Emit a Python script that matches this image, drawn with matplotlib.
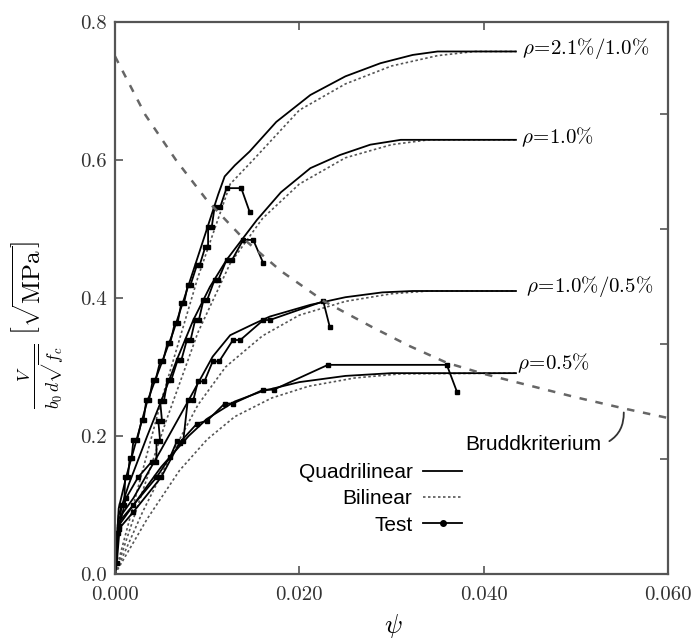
import matplotlib
matplotlib.use("Agg")
import matplotlib.pyplot as plt
from matplotlib.lines import Line2D
from matplotlib.ticker import FormatStrFormatter

plt.rcParams["font.family"] = "serif"
plt.rcParams["font.serif"] = ["cmr10"]
plt.rcParams["mathtext.fontset"] = "cm"
plt.rcParams["axes.formatter.use_mathtext"] = True

# quadrilinear model (solid)
psi_q1 = [0, 0.0004, 0.0012, 0.0035, 0.0063, 0.0090, 0.0112, 0.0119, 0.0130, 0.0146, 0.0175, 0.0212, 0.0250, 0.0288, 0.0323, 0.0350, 0.0435]
v_q1 = [0, 0.095, 0.140, 0.250, 0.350, 0.460, 0.550, 0.576, 0.592, 0.612, 0.655, 0.694, 0.721, 0.740, 0.752, 0.757, 0.757]
psi_q2 = [0, 0.0004, 0.0015, 0.0035, 0.0052, 0.0067, 0.0085, 0.0103, 0.0121, 0.0154, 0.0180, 0.0212, 0.0244, 0.0277, 0.0310, 0.0435]
v_q2 = [0, 0.085, 0.130, 0.200, 0.257, 0.310, 0.368, 0.416, 0.455, 0.513, 0.553, 0.588, 0.607, 0.622, 0.629, 0.629]
psi_q3 = [0, 0.0004, 0.0020, 0.0050, 0.0075, 0.0092, 0.0106, 0.0125, 0.0150, 0.0168, 0.0212, 0.0250, 0.0290, 0.0323, 0.0435]
v_q3 = [0, 0.080, 0.110, 0.180, 0.240, 0.281, 0.315, 0.346, 0.362, 0.373, 0.390, 0.401, 0.408, 0.410, 0.410]
psi_q4 = [0, 0.0004, 0.0020, 0.0050, 0.0080, 0.0100, 0.0130, 0.0160, 0.0200, 0.0250, 0.0300, 0.0435]
v_q4 = [0, 0.075, 0.100, 0.155, 0.200, 0.225, 0.250, 0.265, 0.278, 0.287, 0.291, 0.291]

# bilinear model (dotted)
psi_b1 = [0, 0.0020, 0.0050, 0.0090, 0.0125, 0.0150, 0.0200, 0.0250, 0.0300, 0.0350, 0.0390, 0.0435]
v_b1 = [0, 0.100, 0.250, 0.430, 0.565, 0.600, 0.672, 0.710, 0.736, 0.751, 0.757, 0.757]
psi_b2 = [0, 0.0025, 0.0055, 0.0090, 0.0125, 0.0160, 0.0200, 0.0250, 0.0300, 0.0340, 0.0435]
v_b2 = [0, 0.100, 0.220, 0.350, 0.450, 0.515, 0.565, 0.603, 0.622, 0.629, 0.629]
psi_b3 = [0, 0.0030, 0.0060, 0.0090, 0.0120, 0.0160, 0.0200, 0.0250, 0.0300, 0.0340, 0.0435]
v_b3 = [0, 0.090, 0.170, 0.245, 0.300, 0.345, 0.375, 0.395, 0.406, 0.410, 0.410]
psi_b4 = [0, 0.0035, 0.0070, 0.0100, 0.0130, 0.0170, 0.0210, 0.0260, 0.0310, 0.0435]
v_b4 = [0, 0.080, 0.150, 0.195, 0.228, 0.255, 0.272, 0.284, 0.290, 0.291]

# test results
psi_tA = [0, 0.0002, 0.0007, 0.0010, 0.0011, 0.0014, 0.0016, 0.0018, 0.0020, 0.0024, 0.0029, 0.0031, 0.0034, 0.0037,
          0.0041, 0.0044, 0.0049, 0.0052, 0.0057, 0.0060, 0.0065, 0.0068, 0.0072, 0.0075, 0.0079, 0.0082, 0.0089, 0.0092,
          0.0098, 0.0101, 0.0101, 0.0105, 0.0108, 0.0114, 0.0121, 0.0137, 0.0146]
v_tA = [0, 0.016, 0.100, 0.100, 0.141, 0.141, 0.168, 0.168, 0.194, 0.194, 0.223, 0.223, 0.252, 0.252,
        0.281, 0.281, 0.308, 0.308, 0.335, 0.335, 0.364, 0.364, 0.393, 0.393, 0.419, 0.419, 0.448, 0.448,
        0.474, 0.474, 0.503, 0.503, 0.531, 0.531, 0.559, 0.559, 0.525]
psi_tB = [0, 0.0003, 0.0012, 0.0025, 0.0040, 0.0045, 0.0045, 0.0049, 0.0047, 0.0051, 0.0049, 0.0053, 0.0057, 0.0061,
          0.0068, 0.0072, 0.0078, 0.0082, 0.0087, 0.0091, 0.0096, 0.0100, 0.0108, 0.0112, 0.0121, 0.0127, 0.0139, 0.0150, 0.0161]
v_tB = [0, 0.060, 0.110, 0.140, 0.163, 0.163, 0.192, 0.192, 0.222, 0.222, 0.250, 0.250, 0.281, 0.281,
        0.310, 0.310, 0.339, 0.339, 0.368, 0.368, 0.397, 0.397, 0.426, 0.426, 0.455, 0.455, 0.484, 0.484, 0.450]
psi_tC = [0, 0.0004, 0.0020, 0.0045, 0.0060, 0.0067, 0.0074, 0.0079, 0.0085, 0.0090, 0.0097, 0.0106, 0.0113,
          0.0128, 0.0136, 0.0161, 0.0168, 0.0226, 0.0233]
v_tC = [0, 0.070, 0.100, 0.140, 0.170, 0.192, 0.192, 0.252, 0.252, 0.279, 0.279, 0.308, 0.308,
        0.339, 0.339, 0.368, 0.368, 0.395, 0.358]
psi_tD = [0, 0.0004, 0.0020, 0.0050, 0.0070, 0.0089, 0.0100, 0.0119, 0.0128, 0.0161, 0.0172, 0.0231, 0.0360, 0.0371]
v_tD = [0, 0.065, 0.090, 0.140, 0.190, 0.218, 0.222, 0.247, 0.247, 0.267, 0.267, 0.303, 0.303, 0.264]

# failure criterion
psi_brudd = [0, 0.0033, 0.0066, 0.0100, 0.0140, 0.0180, 0.0227, 0.0280, 0.0320, 0.0360, 0.0400, 0.0435, 0.0500, 0.0555, 0.0600]
v_brudd = [0.750, 0.665, 0.600, 0.541, 0.485, 0.439, 0.395, 0.357, 0.330, 0.306, 0.290, 0.278, 0.256, 0.239, 0.226]

rho_labels = [r"$\rho\!=\!2.1\%/1.0\%$", r"$\rho\!=\!1.0\%$", r"$\rho\!=\!1.0\%/0.5\%$", r"$\rho\!=\!0.5\%$"]
rho_pos = [(0.0442, 0.762), (0.0441, 0.633), (0.0446, 0.416), (0.0436, 0.306)]

fig = plt.figure(figsize=(6.99, 6.41), dpi=100)
ax = fig.add_axes([0.1645, 0.1045, 0.7912, 0.8615])

sans = "Liberation Sans"
for p, v in [(psi_b1, v_b1), (psi_b2, v_b2), (psi_b3, v_b3), (psi_b4, v_b4)]:
    ax.plot(p, v, color="#555555", lw=1.2, ls=(0, (1.5, 1.5)))
for p, v in [(psi_q1, v_q1), (psi_q2, v_q2), (psi_q3, v_q3), (psi_q4, v_q4)]:
    ax.plot(p, v, color="black", lw=1.3)
for p, v in [(psi_tA, v_tA), (psi_tB, v_tB), (psi_tC, v_tC), (psi_tD, v_tD)]:
    ax.plot(p[1:], v[1:], color="black", lw=1.3, marker="s", ms=3.5)
    ax.plot(p[:2], v[:2], color="black", lw=1.3)
ax.plot(psi_brudd, v_brudd, color="#666666", lw=1.8, ls=(0, (3, 3.5)))

for lab, (x, y) in zip(rho_labels, rho_pos):
    ax.text(x, y, lab, fontsize=15, ha="left", va="center")

ax.annotate("Bruddkriterium", xy=(0.0552, 0.234), xytext=(0.0528, 0.187),
            fontsize=15, family=sans, ha="right", va="center",
            arrowprops=dict(arrowstyle="-", color="#333333", lw=1.3,
                            connectionstyle="arc3,rad=0.35", relpos=(1.0, 0.5),
                            shrinkA=4, shrinkB=0))

handles = [Line2D([], [], color="black", lw=1.3),
           Line2D([], [], color="#555555", lw=1.2, ls=(0, (1.5, 1.5))),
           Line2D([], [], color="black", lw=1.3, marker="o", ms=4)]
ax.legend(handles, ["Quadrilinear", "Bilinear", "Test"], loc="center",
          bbox_to_anchor=(0.48, 0.136), frameon=False, markerfirst=False,
          prop={"family": sans, "size": 15}, handlelength=1.9, handletextpad=0.5,
          labelspacing=0.35)

ax.set_xlim(0, 0.06)
ax.set_ylim(0, 0.8)
ax.set_xticks([0, 0.02, 0.04, 0.06])
ax.set_yticks([0, 0.2, 0.4, 0.6, 0.8])
ax.xaxis.set_major_formatter(FormatStrFormatter("%.3f"))
ax.yaxis.set_major_formatter(FormatStrFormatter("%.1f"))
ax.tick_params(direction="in", length=6, width=1.2, color="#555555", labelsize=15,
               labelcolor="#333333", top=True)
ax.tick_params(axis="x", pad=9)
ax.tick_params(axis="y", pad=6)
for s in ax.spines.values():
    s.set_color("#555555")
    s.set_linewidth(1.6)

ax2 = ax.twinx()
ax2.set_ylim(0, 2.4)
ax2.set_yticks([0.5, 1.0, 1.5, 2.0])
ax2.set_yticklabels([])
ax2.tick_params(direction="in", length=6, width=1.2, color="#555555")
for s in ax2.spines.values():
    s.set_visible(False)

ax.set_xlabel(r"$\psi$", fontsize=19)
ax.xaxis.set_label_coords(0.504, -0.068)
ax.set_ylabel(r"$\frac{V}{b_0\, d\sqrt{f_c}}\ \left[\sqrt{\mathrm{MPa}}\right]$", fontsize=18)
ax.yaxis.set_label_coords(-0.088, 0.45)

fig.savefig("out.png", dpi=100)
